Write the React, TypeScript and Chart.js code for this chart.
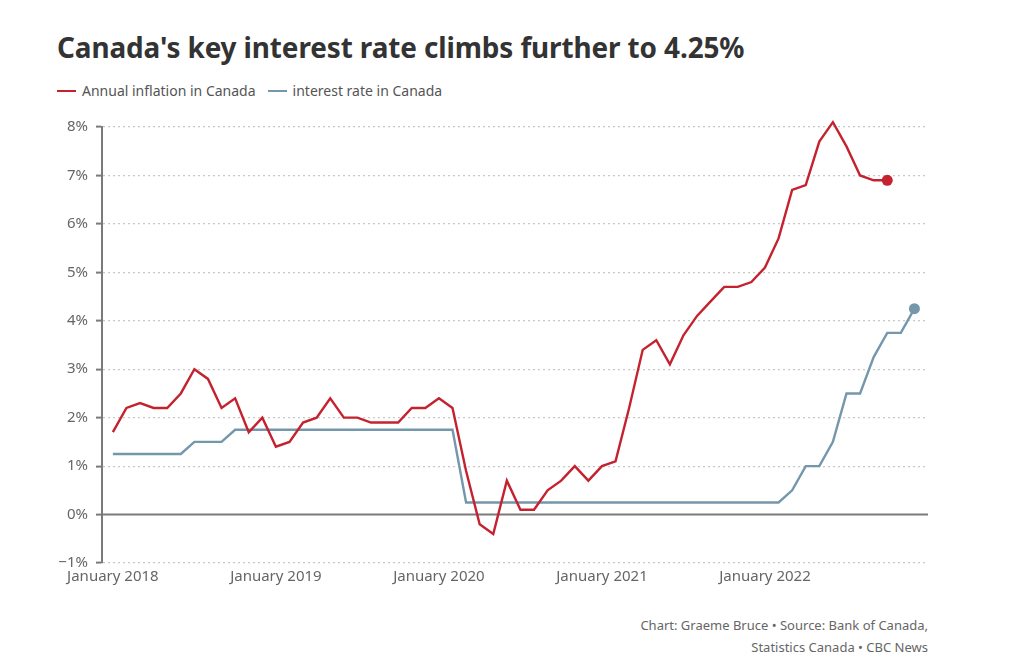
import React, { useEffect, useRef } from "react";
import { Chart, registerables } from "chart.js";

Chart.register(...registerables);

const TITLE = "Canada's key interest rate climbs further to 4.25%";
const SERIES_NAMES = ["Annual inflation in Canada", "interest rate in Canada"];
const X_TICK_LABELS = ["January 2018", "January 2019", "January 2020", "January 2021", "January 2022"];
const Y_TICKS = [-1, 0, 1, 2, 3, 4, 5, 6, 7, 8];

// Monthly, starting January 2018
const inflation = [
  1.7, 2.2, 2.3, 2.2, 2.2, 2.5, 3.0, 2.8, 2.2, 2.4, 1.7, 2.0,
  1.4, 1.5, 1.9, 2.0, 2.4, 2.0, 2.0, 1.9, 1.9, 1.9, 2.2, 2.2,
  2.4, 2.2, 0.9, -0.2, -0.4, 0.7, 0.1, 0.1, 0.5, 0.7, 1.0, 0.7,
  1.0, 1.1, 2.2, 3.4, 3.6, 3.1, 3.7, 4.1, 4.4, 4.7, 4.7, 4.8,
  5.1, 5.7, 6.7, 6.8, 7.7, 8.1, 7.6, 7.0, 6.9, 6.9,
];
const interestRate = [
  1.25, 1.25, 1.25, 1.25, 1.25, 1.25, 1.5, 1.5, 1.5, 1.75, 1.75, 1.75,
  1.75, 1.75, 1.75, 1.75, 1.75, 1.75, 1.75, 1.75, 1.75, 1.75, 1.75, 1.75,
  1.75, 1.75, 0.25, 0.25, 0.25, 0.25, 0.25, 0.25, 0.25, 0.25, 0.25, 0.25,
  0.25, 0.25, 0.25, 0.25, 0.25, 0.25, 0.25, 0.25, 0.25, 0.25, 0.25, 0.25,
  0.25, 0.25, 0.5, 1.0, 1.0, 1.5, 2.5, 2.5, 3.25, 3.75, 3.75, 4.25,
];

const RED = "#c4222e";
const BLUE = "#7497ab";
const AXIS = "#7a7a7a";
const TEXT = "#666666";
const FONT = "'Noto Sans', 'Open Sans', sans-serif";

const zeroLinePlugin = {
  id: "zeroLine",
  beforeDatasetsDraw(chart: any) {
    const { ctx, chartArea, scales } = chart;
    const y = scales.y.getPixelForValue(0);
    ctx.save();
    ctx.strokeStyle = AXIS;
    ctx.lineWidth = 2;
    ctx.beginPath();
    ctx.moveTo(chartArea.left, y);
    ctx.lineTo(chartArea.right, y);
    ctx.stroke();
    ctx.restore();
  },
};

export default function App() {
  const ref = useRef<HTMLCanvasElement>(null);

  useEffect(() => {
    if (!ref.current) return;
    const toPts = (arr: number[]) => arr.map((v, i) => ({ x: i, y: v }));
    const chart = new Chart(ref.current, {
      type: "line",
      data: {
        datasets: [
          {
            label: SERIES_NAMES[0],
            data: toPts(inflation),
            borderColor: RED,
            backgroundColor: RED,
            borderWidth: 2.4,
            tension: 0,
            clip: false,
            pointRadius: (c: any) => (c.dataIndex === inflation.length - 1 ? 5.5 : 0),
            pointHoverRadius: 0,
            pointBorderWidth: 0,
          },
          {
            label: SERIES_NAMES[1],
            data: toPts(interestRate),
            borderColor: BLUE,
            backgroundColor: BLUE,
            borderWidth: 2.4,
            tension: 0,
            clip: false,
            pointRadius: (c: any) => (c.dataIndex === interestRate.length - 1 ? 5.5 : 0),
            pointHoverRadius: 0,
            pointBorderWidth: 0,
          },
        ],
      },
      options: {
        animation: false,
        responsive: false,
        maintainAspectRatio: false,
        layout: { padding: { top: 14, right: 12, bottom: 10, left: 0 } },
        plugins: {
          legend: { display: false },
          tooltip: { enabled: false },
        },
        scales: {
          x: {
            type: "linear",
            min: -0.8,
            max: 60,
            afterBuildTicks: (scale: any) => {
              scale.ticks = X_TICK_LABELS.map((_, i) => ({ value: i * 12 }));
            },
            afterFit: (scale: any) => {
              scale.height = 27;
            },
            ticks: {
              autoSkip: false,
              maxRotation: 0,
              padding: 5,
              color: TEXT,
              font: { family: FONT, size: 15 },
              callback: (v: any) => X_TICK_LABELS[Math.round(Number(v) / 12)] ?? "",
            },
            grid: { display: false, drawTicks: false },
            border: { display: false },
          },
          y: {
            min: -1,
            max: 8,
            afterBuildTicks: (scale: any) => {
              scale.ticks = Y_TICKS.map((v) => ({ value: v }));
            },
            afterFit: (scale: any) => {
              scale.width = 62;
            },
            ticks: {
              padding: 8,
              color: TEXT,
              font: { family: FONT, size: 15 },
              callback: (v: any) => (Number(v) < 0 ? "\u2212" + Math.abs(Number(v)) + "%" : v + "%"),
            },
            grid: {
              color: (c: any) => (c.tick && c.tick.value === 0 ? "rgba(0,0,0,0)" : "#c8c8c8"),
              lineWidth: 1.2,
              drawTicks: true,
              tickLength: 6,
              tickColor: AXIS,
              tickWidth: 2,
              tickBorderDash: [],
            },
            border: { display: true, color: AXIS, width: 2, dash: [2, 3] },
          },
        },
      },
      plugins: [zeroLinePlugin],
    } as any);
    return () => chart.destroy();
  }, []);

  const legendItem = (name: string, color: string) => (
    <span style={{ display: "inline-flex", alignItems: "center", marginRight: 12 }}>
      <span style={{ display: "inline-block", width: 19, height: 2.5, background: color, marginRight: 6 }} />
      <span>{name}</span>
    </span>
  );

  return (
    <div style={{ position: "absolute", left: 0, top: 0, width: 1024, height: 672, background: "#fff", fontFamily: FONT }}>
      <div
        style={{
          position: "absolute",
          left: 57,
          top: 28,
          fontSize: 27.9,
          fontWeight: 700,
          color: "#333",
          whiteSpace: "nowrap",
          letterSpacing: -0.1,
        }}
      >
        {TITLE}
      </div>
      <div style={{ position: "absolute", left: 57, top: 77, fontSize: 14, color: "#555", whiteSpace: "nowrap" }}>
        {legendItem(SERIES_NAMES[0], RED)}
        {legendItem(SERIES_NAMES[1], BLUE)}
      </div>
      <canvas ref={ref} width={900} height={490} style={{ position: "absolute", left: 40, top: 110, width: 900, height: 490 }} />
      <div
        style={{
          position: "absolute",
          right: 96,
          top: 614,
          fontSize: 13,
          color: TEXT,
          textAlign: "right",
          lineHeight: "22px",
          whiteSpace: "nowrap",
        }}
      >
        <div>Chart: Graeme Bruce • Source: Bank of Canada,</div>
        <div>Statistics Canada • CBC News</div>
      </div>
    </div>
  );
}
